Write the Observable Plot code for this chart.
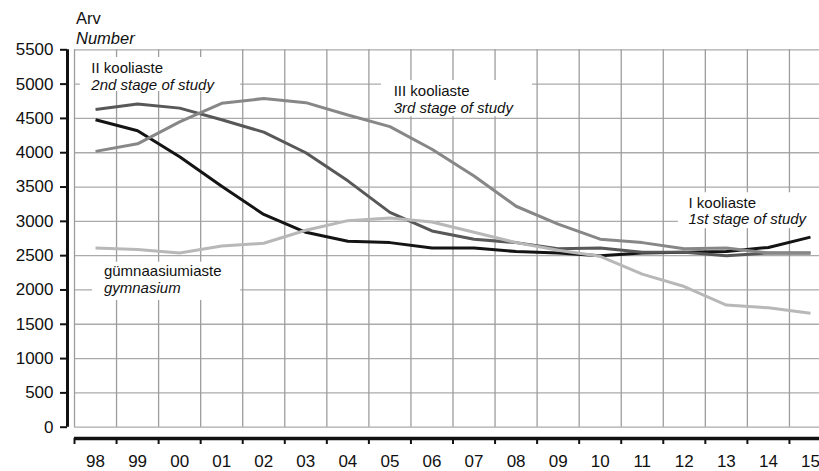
<!DOCTYPE html>
<html>
<head>
<meta charset="utf-8">
<script src="https://cdn.jsdelivr.net/npm/d3@7"></script>
<script src="https://cdn.jsdelivr.net/npm/@observablehq/plot@0.6"></script>
<style>
  html, body { margin: 0; padding: 0; background: #fff; overflow: hidden; }
  #wrap { position: relative; width: 819px; height: 471px; overflow: hidden; font-family: "Liberation Sans", Arial, sans-serif; }
  .ttl { position: absolute; left: 76px; font-size: 16.5px; line-height: 16px; color: #111; white-space: nowrap; }
</style>
</head>
<body>
<div id="wrap">
  <div class="ttl" style="top:10px">Arv<br><i style="position:relative;top:3.5px">Number</i></div>
</div>
<script>
// ---- data ----
const years = [1998, 1999, 2000, 2001, 2002, 2003, 2004, 2005, 2006, 2007, 2008, 2009, 2010, 2011, 2012, 2013, 2014, 2015];
const yearLabels = ["98","99","00","01","02","03","04","05","06","07","08","09","10","11","12","13","14","15"];
const yTicks = [0, 500, 1000, 1500, 2000, 2500, 3000, 3500, 4000, 4500, 5000, 5500];

const stageI   = [4480, 4320, 3940, 3510, 3100, 2840, 2710, 2690, 2610, 2610, 2560, 2540, 2500, 2540, 2550, 2560, 2620, 2770];
const stageII  = [4630, 4710, 4650, 4480, 4300, 4000, 3590, 3130, 2860, 2740, 2690, 2600, 2610, 2550, 2550, 2500, 2540, 2540];
const stageIII = [4020, 4130, 4450, 4720, 4790, 4730, 4550, 4380, 4050, 3660, 3220, 2960, 2740, 2690, 2600, 2610, 2540, 2540];
const gymnasium = [2610, 2590, 2540, 2640, 2680, 2870, 3010, 3050, 2990, 2840, 2690, 2580, 2490, 2230, 2050, 1780, 1740, 1660];

const seriesNames = ["I kooliaste", "II kooliaste", "III kooliaste", "gümnaasiumiaste"];
const seriesNamesEn = ["1st stage of study", "2nd stage of study", "3rd stage of study", "gymnasium"];
const seriesValues = [stageI, stageII, stageIII, gymnasium];
const seriesColors = ["#141414", "#585858", "#878787", "#b8b8b8"];

// label annotation placement (data units): white box + top-left of text
const labelBoxes = [
  {x1: 2011.86, x2: 2016, y1: 2893, y2: 3417, tx: 2012.1, ty: 3374},
  {x1: 1997.64, x2: 2001.45, y1: 4892, y2: 5388, tx: 1997.9, ty: 5337},
  {x1: 2004.8, x2: 2008.39, y1: 4525, y2: 5052, tx: 2005.09, ty: 5002},
  {x1: 1997.93, x2: 2001.45, y1: 1846, y2: 2405, tx: 1998.2, ty: 2379}
];

const table = [];
seriesValues.forEach((vals, s) => vals.forEach((v, i) => table.push({series: seriesNames[s], year: years[i], value: v})));

const edges = years.map(y => y - 0.5).concat([years[years.length - 1] + 0.5]);
const labels = labelBoxes.map((b, i) => ({...b, text: seriesNames[i] + "\n" + seriesNamesEn[i]}));

const marks = [
  Plot.gridY(yTicks, {stroke: "#ababab", strokeOpacity: 1, strokeWidth: 1.3}),
  Plot.gridX(edges, {stroke: "#9d9d9d", strokeOpacity: 1, strokeWidth: 1.3}),
  Plot.rect(labels, {x1: "x1", x2: "x2", y1: "y1", y2: "y2", fill: "white"}),
  Plot.text(labels, {x: "tx", y: "ty", text: "text", textAnchor: "start", lineAnchor: "top", lineHeight: 1.12, fontSize: 15, fill: "#111", className: "serieslabel"}),
];
[0, 1, 2, 3].forEach(s => {
  marks.push(Plot.line(table.filter(d => d.series === seriesNames[s]), {
    x: "year", y: "value", stroke: seriesColors[s], strokeWidth: 3, strokeLinejoin: "miter", strokeLinecap: "butt"
  }));
});
marks.push(
  Plot.ruleX([edges[0]], {y1: 0, y2: 5500, dx: -7, stroke: "#111", strokeWidth: 3}),
  Plot.ruleY([0], {x1: edges[0], x2: edges[edges.length - 1], dy: 11.3, stroke: "#111", strokeWidth: 3.5}),
  Plot.axisY({ticks: yTicks, tickSize: 7, dx: -7, tickPadding: 7, fontSize: 17, tickFormat: d => String(d), stroke: "#111", strokeWidth: 2, fill: "#111"}),
  Plot.axisX({ticks: edges, tickSize: 6, dy: 11.3, tickFormat: () => "", stroke: "#111", strokeWidth: 2}),
  Plot.axisX({ticks: years, tickSize: 0, tickPadding: 28, fontSize: 17, tickFormat: (d) => yearLabels[years.indexOf(d)], fill: "#111"})
);

const chart = Plot.plot({
  width: 831,
  height: 471,
  marginLeft: 74,
  marginRight: 0,
  marginTop: 49.3,
  marginBottom: 44.3,
  style: {fontFamily: "'Liberation Sans', Arial, sans-serif", fontSize: "17px", background: "transparent", overflow: "visible", maxWidth: "none"},
  x: {domain: [edges[0], edges[edges.length - 1]]},
  y: {domain: [0, 5500]},
  marks
});
// second line of each series label (English) in italics
d3.select(chart).selectAll("g.serieslabel text").each(function () {
  d3.select(this).selectAll("tspan").filter((d, i) => i === 1).attr("font-style", "italic");
});
chart.style.position = "absolute";
chart.style.left = "0";
chart.style.top = "0";
chart.style.maxWidth = "none";
document.getElementById("wrap").appendChild(chart);
</script>
</body>
</html>
